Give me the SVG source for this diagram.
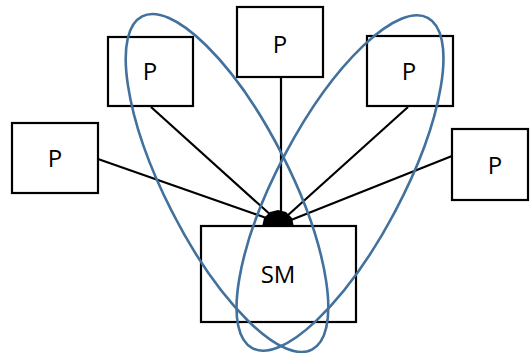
<svg xmlns="http://www.w3.org/2000/svg" width="530" height="353" viewBox="0 0 530 353">
<style>
.box{fill:#fff;stroke:#000;stroke-width:2.2}
.lbl{font-family:"Open Sans","Liberation Sans",sans-serif;font-size:24px;fill:#000;text-anchor:middle}
.con{stroke:#000;stroke-width:2.2;fill:none}
.ell{fill:none;stroke:#41719C;stroke-width:2.6}
</style>
<rect width="530" height="353" fill="#fff"/>
<g id="connectors">
<line class="con" x1="98" y1="159" x2="272" y2="220"/>
<line class="con" x1="151" y1="107" x2="273" y2="217"/>
<line class="con" x1="281" y1="77" x2="281" y2="213"/>
<line class="con" x1="408" y1="107" x2="287" y2="216"/>
<line class="con" x1="452" y1="156" x2="291" y2="220"/>
</g>
<g id="p4"><rect class="box" x="12" y="123" width="86" height="70"/><text class="lbl" x="55" y="167">P</text></g>
<g id="p1"><rect class="box" x="108" y="37" width="85" height="69"/><text class="lbl" x="150" y="80">P</text></g>
<g id="p2"><rect class="box" x="237" y="7" width="86" height="70"/><text class="lbl" x="280" y="53">P</text></g>
<g id="p3"><rect class="box" x="367" y="36" width="86" height="70"/><text class="lbl" x="409" y="80">P</text></g>
<g id="p5"><rect class="box" x="452" y="129" width="76" height="71"/><text class="lbl" x="495" y="174">P</text></g>
<g id="sm"><rect class="box" x="201" y="226" width="155" height="96"/><text class="lbl" x="278" y="283">SM</text></g>
<g id="hub"><path d="M262,227 L264,218 L270,212 L278,210 L286,212 L292,218 L294,227 Z" fill="#000"/></g>
<g id="ellipses">
<ellipse class="ell" cx="0" cy="0" rx="187" ry="62" transform="translate(227,183) rotate(63)"/>
<ellipse class="ell" cx="0" cy="0" rx="187" ry="62" transform="translate(340,183) rotate(-62)"/>
</g>
</svg>
